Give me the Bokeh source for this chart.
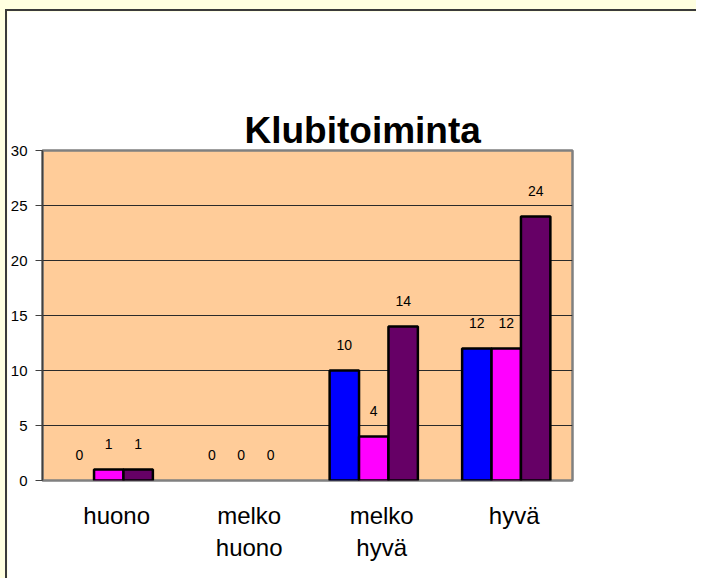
from bokeh.plotting import figure
from bokeh.layouts import column
from bokeh.models import ColumnDataSource, Range1d, FixedTicker, Title
from bokeh.core.properties import value
from bokeh.embed import file_html
from bokeh.resources import INLINE

categories = ["huono", "melko\nhuono", "melko\nhyvä", "hyvä"]
series_a = [0, 0, 10, 12]
series_b = [1, 0, 4, 12]
series_c = [1, 0, 14, 24]
series_colors = ["#0000FF", "#FF00FF", "#660066"]
y_ticks = [0, 5, 10, 15, 20, 25, 30]
chart_title = "Klubitoiminta"

bar_w = 0.222
label_shift = 0.06

# the plot's own title slot (closest to the frame) is used as an invisible spacer
spacer = Title(text=".", text_font_size="10px", standoff=59, text_alpha=0)

fig = figure(width=691, height=569, output_backend="svg", toolbar_location=None,
             x_range=Range1d(0, len(categories)), y_range=Range1d(0, 30),
             min_border_left=33, min_border_right=126, min_border_top=139, min_border_bottom=100,
             title=spacer)
fig.styles = {"border-left": "2px solid #3a3a3a", "border-top": "2px solid #3a3a3a"}
fig.background_fill_color = "#FFCC99"
fig.border_fill_color = "#FFFFFF"
fig.outline_line_color = "#808080"
fig.outline_line_width = 2.5

main_title = Title(text=chart_title, align="left", offset=202, vertical_align="bottom",
                   standoff=0, text_font="Liberation Sans", text_font_style="bold",
                   text_font_size="37px", text_color="black")
fig.add_layout(main_title, "above")

for j, (vals, col) in enumerate(zip([series_a, series_b, series_c], series_colors)):
    xs = [i + 0.5 + (j - 1) * bar_w for i in range(len(categories))]
    src = ColumnDataSource(dict(x=xs, top=vals,
                                la=[0 if v == 0 else 1 for v in vals],
                                lbl=[str(v) for v in vals]))
    fig.vbar(x="x", top="top", bottom=0, width=bar_w, source=src, fill_color=col,
             line_color="black", line_width=2.5, line_alpha="la")
    fig.text(x="x", y="top", text="lbl", source=src, text_align="center",
             text_baseline="middle", y_offset=-26, text_font=value("Liberation Sans"),
             text_font_size="14px", text_color="black")

# grid
fig.xgrid.visible = False
fig.ygrid.ticker = FixedTicker(ticks=y_ticks)
fig.ygrid.grid_line_color = "#2a2a2a"
fig.ygrid.grid_line_width = 1

# y axis
fig.yaxis.ticker = FixedTicker(ticks=y_ticks)
fig.yaxis.minor_tick_line_color = None
fig.yaxis.major_tick_in = 0
fig.yaxis.major_tick_out = 7
fig.yaxis.major_tick_line_color = "#404040"
fig.yaxis.axis_line_color = "#404040"
fig.yaxis.axis_line_width = 1.5
fig.yaxis.major_label_standoff = 8
fig.yaxis.major_label_text_font = "Liberation Sans"
fig.yaxis.major_label_text_font_size = "15px"
fig.yaxis.major_label_text_color = "black"

# x axis
xt = [i + 0.5 + label_shift for i in range(len(categories))]
fig.xaxis.ticker = FixedTicker(ticks=xt)
fig.xaxis.major_label_overrides = {t: c for t, c in zip(xt, categories)}
fig.xaxis.axis_line_color = None
fig.xaxis.major_tick_line_color = None
fig.xaxis.minor_tick_line_color = None
fig.xaxis.major_tick_out = 0
fig.xaxis.major_label_standoff = 21
fig.xaxis.major_label_text_font = "Liberation Sans"
fig.xaxis.major_label_text_font_size = "24px"
fig.xaxis.major_label_text_color = "black"
fig.xaxis.major_label_text_line_height = 1.2

p = column(fig, styles={"border-left": "5px solid #FFFFE0", "border-top": "9px solid #FFFFE0",
                        "background-color": "#FFFFE0"})

open("out.html", "w").write(file_html(p, INLINE))
